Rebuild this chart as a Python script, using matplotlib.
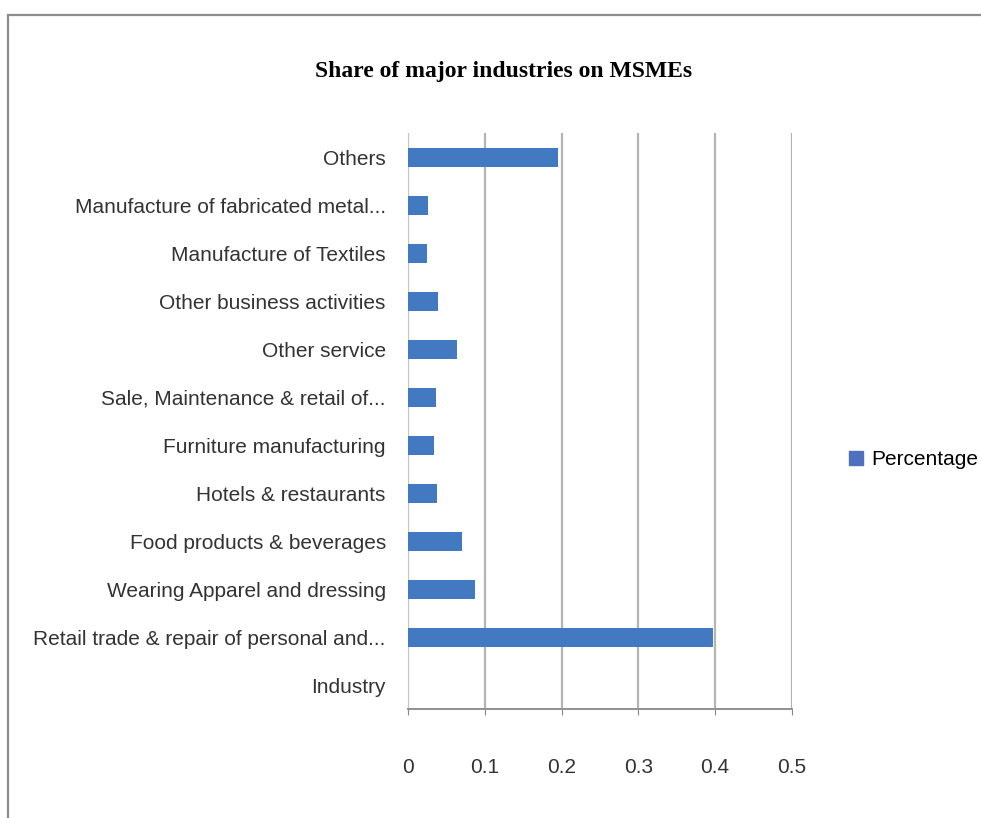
import numpy as np
import matplotlib.pyplot as plt
from matplotlib.patches import Rectangle, Patch

industries = [
    "Industry",
    "Retail trade & repair of personal and...",
    "Wearing Apparel and dressing",
    "Food products & beverages",
    "Hotels & restaurants",
    "Furniture manufacturing",
    "Sale, Maintenance & retail of...",
    "Other service",
    "Other business activities",
    "Manufacture of Textiles",
    "Manufacture of fabricated metal...",
    "Others",
]
percentage = [0.0, 0.397, 0.087, 0.070, 0.038, 0.034, 0.036, 0.064, 0.039, 0.025, 0.026, 0.196]
x_ticks = [0, 0.1, 0.2, 0.3, 0.4, 0.5]
x_tick_labels = ["0", "0.1", "0.2", "0.3", "0.4", "0.5"]

label_font = ['Liberation Sans', 'DejaVu Sans']
bar_color = '#4279c0'

fig = plt.figure(figsize=(9.81, 8.18), dpi=100)
# outer chart border (top and left edges visible)
fig.patches.append(Rectangle((0.008, -0.05), 1.1, 0.032 + 0.05 + 0.95, transform=fig.transFigure,
                             fill=False, edgecolor='#8c8c8c', linewidth=1.6))

ax = fig.add_axes([0.416, 0.133, 0.391, 0.704])
y = np.arange(len(industries))
ax.barh(y, percentage, height=0.4, color=bar_color, zorder=3)

ax.set_xlim(0, 0.5)
ax.set_ylim(-0.5, len(industries) - 0.5)
ax.set_xticks(x_ticks)
ax.set_xticklabels(x_tick_labels, family=label_font, fontsize=15, color='#333333')
ax.set_yticks(y)
ax.set_yticklabels(industries, family=label_font, fontsize=15, color='#333333')
ax.tick_params(axis='x', pad=31, length=4, color='#888888')
ax.tick_params(axis='y', pad=16, length=0)
ax.grid(axis='x', color='#b4b4b4', linewidth=1.6, zorder=0)

for s in ['top', 'right']:
    ax.spines[s].set_visible(False)
ax.spines['left'].set_color('#c8c8c8')
ax.spines['bottom'].set_color('#909090')
ax.spines['bottom'].set_linewidth(1.4)

fig.text(0.513, 0.912, "Share of major industries on MSMEs", ha='center', va='center',
         family=['Liberation Serif', 'DejaVu Serif'], fontweight='bold', fontsize=17)

fig.legend(handles=[Patch(color='#4f6fbf', label='Percentage')], loc='center left',
           bbox_to_anchor=(0.865, 0.438), frameon=False, handlelength=0.7, handleheight=0.7,
           handletextpad=0.4, borderaxespad=0, borderpad=0,
           prop={'family': label_font, 'size': 15})

fig.savefig("out.png", dpi=100)
